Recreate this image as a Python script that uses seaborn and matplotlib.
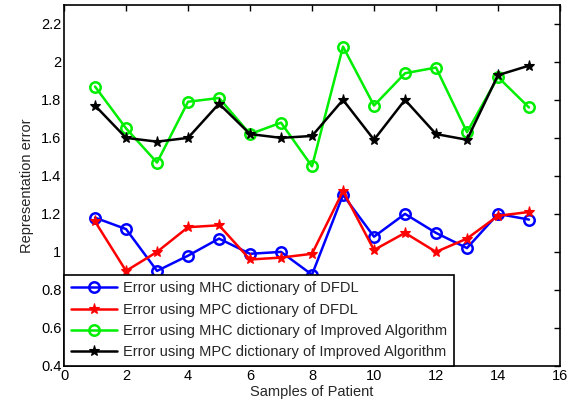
import matplotlib
matplotlib.use("Agg")
import matplotlib.pyplot as plt
import seaborn as sns
import pandas as pd

samples = list(range(1, 16))
mhc_dfdl = [1.18, 1.12, 0.90, 0.98, 1.07, 0.99, 1.00, 0.88, 1.30, 1.08, 1.20, 1.10, 1.02, 1.20, 1.17]
mpc_dfdl = [1.16, 0.90, 1.00, 1.13, 1.14, 0.96, 0.97, 0.99, 1.32, 1.01, 1.10, 1.00, 1.07, 1.19, 1.21]
mhc_impr = [1.87, 1.65, 1.47, 1.79, 1.81, 1.62, 1.68, 1.45, 2.08, 1.77, 1.94, 1.97, 1.63, 1.92, 1.76]
mpc_impr = [1.77, 1.60, 1.58, 1.60, 1.78, 1.62, 1.60, 1.61, 1.80, 1.59, 1.80, 1.62, 1.59, 1.93, 1.98]
labels = ["Error using MHC dictionary of DFDL",
          "Error using MPC dictionary of DFDL",
          "Error using MHC dictionary of Improved Algorithm",
          "Error using MPC dictionary of Improved Algorithm"]
xticks = [0, 2, 4, 6, 8, 10, 12, 14, 16]
yticks = [0.4, 0.6, 0.8, 1.0, 1.2, 1.4, 1.6, 1.8, 2.0, 2.2]

sns.set_style("white")
plt.rcParams['font.family'] = ['Liberation Sans', 'DejaVu Sans']

fig = plt.figure(figsize=(5.77, 4.03), dpi=100)
ax = fig.add_axes([0.111, 0.092, 0.8595, 0.896])

styles = [("#0000ff", "o", "none"),
          ("#ff0000", "*", "#ff0000"),
          ("#00ee00", "o", "none"),
          ("#000000", "*", "#000000")]
for vals, lab, (col, mk, fc) in zip([mhc_dfdl, mpc_dfdl, mhc_impr, mpc_impr], labels, styles):
    df = pd.DataFrame({"x": samples, "y": vals})
    sns.lineplot(data=df, x="x", y="y", ax=ax, color=col, linewidth=1.8,
                 marker=mk, markersize=7.5 if mk == "o" else 8,
                 markerfacecolor=fc, markeredgecolor=col, markeredgewidth=1.8 if mk == "o" else 0.8,
                 label=lab)

ax.set_xlim(0, 16)
ax.set_ylim(0.4, 2.3)
ax.set_xticks(xticks)
ax.set_xticklabels([str(t) for t in xticks])
ax.set_yticks(yticks)
ax.set_yticklabels([f"{t:g}" for t in yticks])
ax.tick_params(direction="in", top=True, right=True, length=4, width=1, labelsize=10.5, colors="black", pad=2)
for s in ax.spines.values():
    s.set_visible(True)
    s.set_color("black")
    s.set_linewidth(1.2)
ax.set_xlabel("Samples of Patient", fontsize=10.5, labelpad=2)
ax.set_ylabel("Representation error", fontsize=10.5, labelpad=5)

leg = ax.legend(loc="lower left", bbox_to_anchor=(0.0, 0.0), fontsize=10.5, frameon=True,
                fancybox=False, borderaxespad=0, handlelength=3.2, labelspacing=0.5,
                borderpad=0.45, handletextpad=0.4)
leg.get_frame().set_edgecolor("black")
leg.get_frame().set_linewidth(1.2)
leg.get_frame().set_alpha(1)

fig.savefig("out.png", dpi=100, facecolor="white")
